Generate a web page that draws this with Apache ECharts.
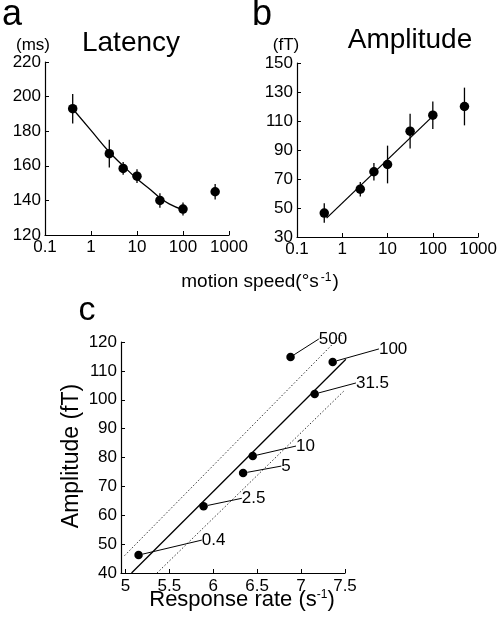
<!DOCTYPE html>
<html>
<head>
<meta charset="utf-8">
<script src="https://cdn.jsdelivr.net/npm/echarts@6/dist/echarts.min.js"></script>
<style>html,body{margin:0;padding:0;background:#fff}#c{width:500px;height:623px}</style>
</head>
<body>
<div id="c"></div>
<script>
// ---- data ----
const speeds = [0.4, 2.5, 5, 10, 31.5, 100, 500];
const speedLabels = ['0.4', '2.5', '5', '10', '31.5', '100', '500'];
const latency = [193, 167, 158.5, 154, 140, 135, 145];
const latencyErr = [8.5, 8, 3.7, 4, 4.2, 3.8, 4.5];
const latencyFitX = [0.4, 1, 2.5, 5, 10, 20, 31.5, 50, 100];
const latencyFitY = [193, 180.5, 168, 160, 152.5, 146, 141.5, 138, 134.5];
const amplitude = [46.5, 63, 75, 80, 103, 114, 120];
const amplitudeErr = [6.7, 5, 6, 13, 12, 9.5, 13];
const ampFitX = [0.45, 90];
const ampFitY = [43, 112];
const responseRate = [5.15, 5.89, 6.34, 6.45, 7.155, 7.36, 6.88];
const ampC = [46.2, 63.1, 74.6, 80.5, 102, 113.1, 114.8];
const regX = [5.07, 7.51];
const regY = [40, 114];
const upperX = [4.99, 7.47];
const upperY = [46, 122.7];
const lowerX = [5.36, 7.5];
const lowerY = [40, 103.4];
const logTicks = [0.1, 1, 10, 100, 1000];
const latTicks = [120, 140, 160, 180, 200, 220];
const ampTicks = [30, 50, 70, 90, 110, 130, 150];
const rateTicks = [5, 5.5, 6, 6.5, 7, 7.5];
const ampCTicks = [40, 50, 60, 70, 80, 90, 100, 110, 120];

// ---- layout (label offsets, px) ----
const labelOffsets = [[56, -15], [31, -8], [31, -7], [36, -10], [34, -11], [39, -13], [21, -18]];

const FONT = "'Liberation Sans', Arial, sans-serif";
const zip = (a, b) => a.map((v, i) => [v, b[i]]);
const errData = (v, e) => speeds.map((x, i) => [x, v[i] - e[i], v[i] + e[i]]);
const TICKFS = 17;

function axisOpts(gridIndex, type, min, max, ticks, extraLabel) {
  const o = {
    gridIndex: gridIndex, type: type, min: min, max: max,
    axisLine: { show: true, lineStyle: { color: '#000', width: 1.2 } },
    axisTick: { show: true, inside: true, length: 4, lineStyle: { color: '#000', width: 1 }, customValues: ticks },
    axisLabel: Object.assign({ color: '#000', fontSize: TICKFS, fontFamily: FONT, margin: 4, customValues: ticks }, extraLabel || {}),
    splitLine: { show: false },
    minorTick: { show: false }
  };
  if (type === 'log') o.logBase = 10;
  return o;
}

function errSeries(xi, yi, data) {
  return {
    type: 'custom', xAxisIndex: xi, yAxisIndex: yi, data: data,
    encode: { x: 0, y: [1, 2] },
    renderItem: function (params, api) {
      const p1 = api.coord([api.value(0), api.value(1)]);
      const p2 = api.coord([api.value(0), api.value(2)]);
      return { type: 'line', shape: { x1: p1[0], y1: p1[1], x2: p2[0], y2: p2[1] }, style: { stroke: '#000', lineWidth: 1.3 } };
    },
    silent: true, z: 2
  };
}

const logFmt = v => String(Number(Number(v).toPrecision(3)));
const dot = { color: '#000', opacity: 1 };

const option = {
  animation: false,
  backgroundColor: '#fff',
  grid: [
    { left: 45, top: 62, width: 184, height: 173 },
    { left: 297, top: 63, width: 183, height: 174 },
    { left: 121, top: 342, width: 224, height: 231 }
  ],
  xAxis: [
    axisOpts(0, 'log', 0.1, 1000, logTicks, { formatter: logFmt }),
    axisOpts(1, 'log', 0.1, 1000, logTicks, { formatter: logFmt }),
    axisOpts(2, 'value', 4.95, 7.5, rateTicks, { margin: 5 })
  ],
  yAxis: [
    axisOpts(0, 'value', 120, 220, latTicks),
    axisOpts(1, 'value', 30, 150, ampTicks),
    axisOpts(2, 'value', 40, 120, ampCTicks)
  ],
  series: [
    // panel a
    { type: 'line', xAxisIndex: 0, yAxisIndex: 0, data: zip(latencyFitX, latencyFitY), smooth: 0.5,
      showSymbol: false, lineStyle: { color: '#000', width: 1.3 }, z: 1, silent: true },
    errSeries(0, 0, errData(latency, latencyErr)),
    { type: 'scatter', xAxisIndex: 0, yAxisIndex: 0, data: zip(speeds, latency), symbolSize: 9.5,
      itemStyle: dot, z: 3 },
    // panel b
    { type: 'line', xAxisIndex: 1, yAxisIndex: 1, data: zip(ampFitX, ampFitY),
      showSymbol: false, lineStyle: { color: '#000', width: 1.3 }, z: 1, silent: true },
    errSeries(1, 1, errData(amplitude, amplitudeErr)),
    { type: 'scatter', xAxisIndex: 1, yAxisIndex: 1, data: zip(speeds, amplitude), symbolSize: 9.5,
      itemStyle: dot, z: 3 },
    // panel c
    { type: 'line', xAxisIndex: 2, yAxisIndex: 2, data: zip(regX, regY), clip: false,
      showSymbol: false, lineStyle: { color: '#000', width: 1.3 }, z: 1, silent: true },
    { type: 'line', xAxisIndex: 2, yAxisIndex: 2, data: zip(upperX, upperY), clip: false,
      showSymbol: false, lineStyle: { color: '#000', width: 0.8, type: [1.5, 2] }, z: 1, silent: true },
    { type: 'line', xAxisIndex: 2, yAxisIndex: 2, data: zip(lowerX, lowerY), clip: false,
      showSymbol: false, lineStyle: { color: '#000', width: 0.8, type: [1.5, 2] }, z: 1, silent: true },
    { type: 'scatter', xAxisIndex: 2, yAxisIndex: 2, data: zip(responseRate, ampC), symbolSize: 8.5,
      itemStyle: dot, z: 3,
      label: { show: true, position: 'right', distance: 0, color: '#000', fontSize: 17, fontFamily: FONT,
        padding: [0, 0, 0, 3],
        formatter: p => speedLabels[p.dataIndex] },
      labelLine: { show: true, lineStyle: { color: '#000', width: 1, opacity: 1 } },
      labelLayout: p => ({ dx: labelOffsets[p.dataIndex][0], dy: labelOffsets[p.dataIndex][1] })
    }
  ],
  graphic: [
    { type: 'text', style: { x: 12, y: 15, text: 'a', font: '36px ' + FONT, fill: '#000', align: 'center', verticalAlign: 'middle' } },
    { type: 'text', style: { x: 262, y: 15, text: 'b', font: '36px ' + FONT, fill: '#000', align: 'center', verticalAlign: 'middle' } },
    { type: 'text', style: { x: 87, y: 311, text: 'c', font: '34px ' + FONT, fill: '#000', align: 'center', verticalAlign: 'middle' } },
    { type: 'text', style: { x: 131, y: 43, text: 'Latency', font: '28px ' + FONT, fill: '#000', align: 'center', verticalAlign: 'middle' } },
    { type: 'text', style: { x: 410, y: 40, text: 'Amplitude', font: '28px ' + FONT, fill: '#000', align: 'center', verticalAlign: 'middle' } },
    { type: 'text', style: { x: 33, y: 45, text: '(ms)', font: '17px ' + FONT, fill: '#000', align: 'center', verticalAlign: 'middle' } },
    { type: 'text', style: { x: 286, y: 45, text: '(fT)', font: '17px ' + FONT, fill: '#000', align: 'center', verticalAlign: 'middle' } },
    { type: 'text', style: { x: 260, y: 282, text: '{n|motion speed(°s}{s|-1}{n|)}', align: 'center', verticalAlign: 'middle',
        rich: { n: { font: '19px ' + FONT, fill: '#000' }, s: { font: '12px ' + FONT, fill: '#000', padding: [0, 1, 8, 2] } } } },
    { type: 'text', style: { x: 242, y: 600, text: '{n|Response rate (s}{s|-1}{n|)}', align: 'center', verticalAlign: 'middle',
        rich: { n: { font: '22px ' + FONT, fill: '#000' }, s: { font: '12px ' + FONT, fill: '#000', padding: [0, 0, 10, 0] } } } },
    { type: 'text', rotation: Math.PI / 2, x: 72, y: 456,
      style: { x: 0, y: 0, text: 'Amplitude (fT)', font: '23px ' + FONT, fill: '#000', align: 'center', verticalAlign: 'middle' } }
  ]
};

const chart = echarts.init(document.getElementById('c'), null, { renderer: 'canvas' });
chart.setOption(option);
</script>
</body>
</html>
